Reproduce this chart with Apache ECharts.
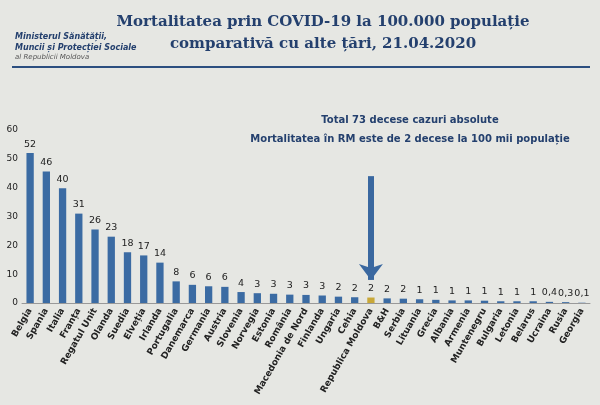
<!DOCTYPE html>
<html>
<head>
<meta charset="utf-8">
<script src="https://cdn.jsdelivr.net/npm/echarts@6/dist/echarts.min.js"></script>
<style>
  html, body { margin: 0; padding: 0; background: #e6e7e3; }
  #main { width: 600px; height: 405px; }
</style>
</head>
<body>
<div id="main"></div>
<script>
var countries = ['Belgia', 'Spania', 'Italia', 'Franța', 'Regatul Unit', 'Olanda', 'Suedia', 'Elveția', 'Irlanda',
  'Portugalia', 'Danemarca', 'Germania', 'Austria', 'Slovenia', 'Norvegia', 'Estonia', 'România',
  'Macedonia de Nord', 'Finlanda', 'Ungaria', 'Cehia', 'Republica Moldova', 'B&H', 'Serbia', 'Lituania',
  'Grecia', 'Albania', 'Armenia', 'Muntenegru', 'Bulgaria', 'Letonia', 'Belarus', 'Ucraina', 'Rusia', 'Georgia'];
var deaths = [52, 45.6, 39.8, 31, 25.5, 23, 17.6, 16.5, 14, 7.5, 6.3, 5.8, 5.6, 3.8, 3.4, 3.2, 2.9,
  2.8, 2.6, 2.2, 2.0, 1.9, 1.6, 1.5, 1.3, 1.1, 0.9, 0.9, 0.8, 0.6, 0.6, 0.6, 0.4, 0.3, 0.1];
var highlight = 'Republica Moldova';

var myChart = echarts.init(document.getElementById('main'));

var option = {
  backgroundColor: '#e6e7e3',
  textStyle: { fontFamily: 'DejaVu Sans' },
  title: [{
    text: 'Mortalitatea prin COVID-19 la 100.000 populație\ncomparativă cu alte țări, 21.04.2020',
    left: 318, top: 6, textAlign: 'center',
    textStyle: { fontFamily: 'DejaVu Serif', fontSize: 15, fontWeight: 'bold', color: '#24406e', lineHeight: 22 }
  }, {
    text: 'Ministerul Sănătății,\nMuncii și Protecției Sociale',
    subtext: 'al Republicii Moldova',
    left: 10, top: 26, itemGap: 1,
    textStyle: { fontSize: 8, fontWeight: 'bold', fontStyle: 'italic', color: '#24406e', lineHeight: 11 },
    subtextStyle: { fontSize: 7, fontStyle: 'italic', color: '#555' }
  }, {
    text: 'Total 73 decese cazuri absolute\nMortalitatea în RM este de 2 decese la 100 mii populație',
    left: 405, top: 106, textAlign: 'center',
    textStyle: { fontSize: 10, fontWeight: 'bold', color: '#24406e', lineHeight: 19 }
  }],
  graphic: [{
    type: 'rect', shape: { x: 12, y: 66, width: 578, height: 2 }, style: { fill: '#2c4f80' }
  }],
  grid: { left: 22, right: 10, top: 130, bottom: 102 },
  xAxis: {
    type: 'category',
    data: countries,
    axisTick: { show: false },
    axisLine: { lineStyle: { color: '#999' } },
    axisLabel: { rotate: 60, interval: 0, fontSize: 9, fontWeight: 'bold', color: '#222', margin: 6 }
  },
  yAxis: {
    type: 'value', min: 0, max: 60, interval: 10,
    splitLine: { show: false },
    axisLine: { show: false },
    axisLabel: { fontSize: 9, color: '#222', margin: 4 }
  },
  series: [{
    type: 'bar',
    barWidth: '45%',
    data: deaths.map(function (v, i) {
      return { value: v, itemStyle: { color: countries[i] === highlight ? '#c9a838' : '#3b6ba3' } };
    }),
    label: {
      show: true, position: 'top', fontSize: 9.5, color: '#222', distance: 4,
      formatter: function (p) {
        return p.value < 0.5 ? String(p.value).replace('.', ',') : String(Math.round(p.value));
      }
    },
    markLine: {
      silent: true,
      symbol: ['none', 'arrow'],
      symbolSize: [18, 16],
      label: { show: false },
      lineStyle: { color: '#3a68a0', width: 6, type: 'solid' },
      data: [[{ coord: [highlight, 44] }, { coord: [highlight, 8] }]]
    }
  }]
};

myChart.setOption(option);
</script>
</body>
</html>
